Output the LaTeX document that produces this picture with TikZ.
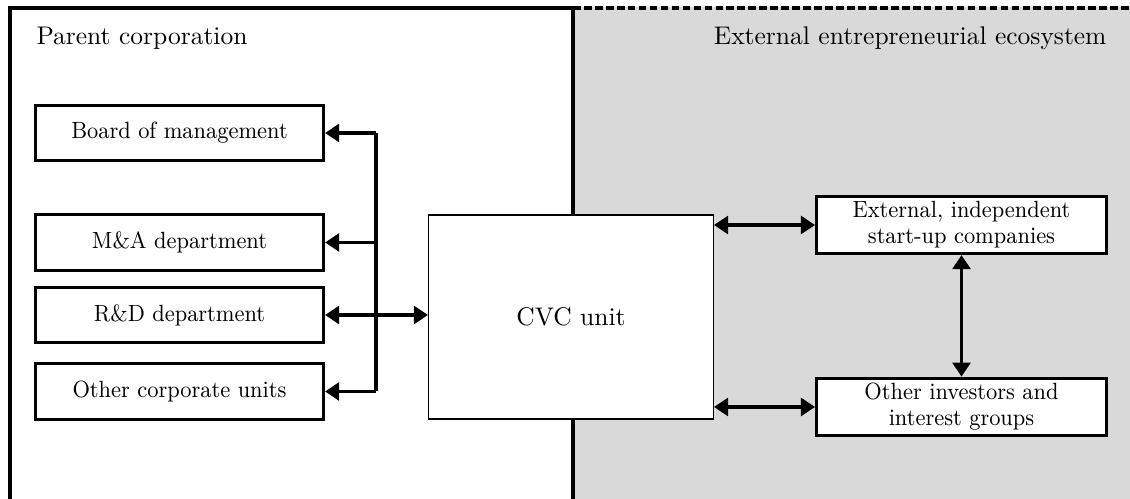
\documentclass[tikz,border=0pt]{standalone}
\usepackage{graphicx}
\usetikzlibrary{arrows.meta}
\newcommand{\nrw}[1]{\scalebox{0.93}[1]{#1}}
\begin{document}
\begin{tikzpicture}[x=0.3922pt,y=-0.3922pt,
  unitbox/.style={draw,very thick,fill=white,minimum width=113pt,minimum height=21.8pt,inner sep=2pt,align=center,font=\fontsize{9.2}{10.2}\selectfont},
  cvcbox/.style={draw,semithick,fill=white,minimum width=111.6pt,minimum height=80.2pt},
  conn/.style={very thick,-{Triangle[length=5.5pt,width=7pt]}},
  conn2/.style={very thick,{Triangle[length=5.5pt,width=7pt]}-{Triangle[length=5.5pt,width=7pt]}},
  title/.style={inner sep=0pt}]
\useasboundingbox (0,0) rectangle (1130,499);
\clip (0,0) rectangle (1130,499);
% external ecosystem area
\fill[gray!30] (573,7.5) rectangle (1140,510);
\draw[very thick,dash pattern=on 3pt off 1.3pt] (573,8) -- (1140,8);
% parent corporation frame
\draw[very thick] (10,510) -- (10,8) -- (573,8) -- (573,510);
\node[title,anchor=base west] (pc) at (36,45) {Parent corporation};
\node[title,anchor=base east] (ee) at (1107,45) {External entrepreneurial ecosystem};
% left units
\node[unitbox] (board) at (179.5,133) {\nrw{Board of management}};
\node[unitbox] (ma) at (179.5,242.5) {\nrw{M\&A department}};
\node[unitbox] (rd) at (179.5,315) {\nrw{R\&D department}};
\node[unitbox] (other) at (179.5,391.5) {\nrw{Other corporate units}};
% CVC unit
\node[cvcbox] (cvc) at (571,317) {CVC unit};
% right units
\node[unitbox,minimum width=113.7pt,minimum height=22.4pt] (ext) at (961.5,225) {\nrw{External, independent}\\\nrw{start-up companies}};
\node[unitbox,minimum width=113.7pt,minimum height=22.4pt] (inv) at (961.5,407) {\nrw{Other investors and}\\\nrw{interest groups}};
% trunk
\coordinate (trunk) at (376,0);
\draw[very thick] (trunk |- board.east) -- (trunk |- other.east);
\draw[conn] (trunk |- board.east) -- (board.east);
\draw[conn] (trunk |- ma.east) -- (ma.east);
\draw[conn] (trunk |- other.east) -- (other.east);
\draw[conn2] (rd.east) -- (rd.east -| cvc.west);
% right connectors
\draw[conn2] (ext.west -| cvc.east) -- (ext.west);
\draw[conn2] (inv.west -| cvc.east) -- (inv.west);
\draw[conn2] (ext.south) -- (inv.north);
\end{tikzpicture}
\end{document}
